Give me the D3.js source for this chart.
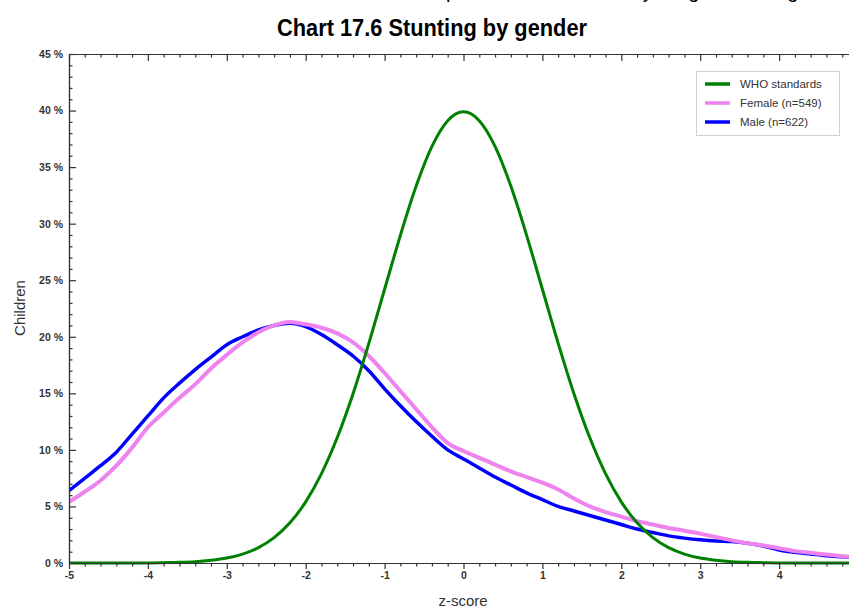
<!DOCTYPE html>
<html>
<head>
<meta charset="utf-8">
<script src="https://cdn.jsdelivr.net/npm/d3@7"></script>
<style>
  html, body { margin: 0; padding: 0; background: #fff; }
  svg { display: block; }
</style>
</head>
<body>
<svg id="chart" width="849" height="608"></svg>
<script>
// z-score grid shared by every series
const zScores = [-5.0, -4.8, -4.6, -4.4, -4.2, -4.0, -3.8, -3.6, -3.4, -3.2,
  -3.0, -2.8, -2.6, -2.4, -2.2, -2.0, -1.8, -1.6, -1.4, -1.2,
  -1.0, -0.8, -0.6, -0.4, -0.2, 0.0, 0.2, 0.4, 0.6, 0.8,
  1.0, 1.2, 1.4, 1.6, 1.8, 2.0, 2.2, 2.4, 2.6, 2.8,
  3.0, 3.2, 3.4, 3.6, 3.8, 4.0, 4.2, 4.4, 4.6, 4.8, 5.0];

// share of children (%) at each z-score
const whoStandards = [0, 0, 0, 0, 0.01, 0.01, 0.03, 0.06, 0.12, 0.24,
  0.44, 0.79, 1.36, 2.24, 3.55, 5.40, 7.90, 11.09, 14.97, 19.42,
  24.20, 28.97, 33.32, 36.83, 39.10, 39.89, 39.10, 36.83, 33.32, 28.97,
  24.20, 19.42, 14.97, 11.09, 7.90, 5.40, 3.55, 2.24, 1.36, 0.79,
  0.44, 0.24, 0.12, 0.06, 0.03, 0.01, 0.01, 0, 0, 0, 0];

const female = [5.4, 6.3, 7.3, 8.6, 10.2, 12.0, 13.3, 14.6, 15.8, 17.2,
  18.4, 19.5, 20.4, 21.0, 21.3, 21.1, 20.8, 20.3, 19.5, 18.3,
  16.8, 15.2, 13.6, 12.0, 10.6, 9.9, 9.3, 8.7, 8.1, 7.6,
  7.1, 6.5, 5.7, 5.0, 4.5, 4.1, 3.7, 3.4, 3.1, 2.85,
  2.6, 2.3, 2.0, 1.75, 1.55, 1.3, 1.05, 0.9, 0.75, 0.6, 0.5];

const male = [6.4, 7.5, 8.6, 9.8, 11.4, 13.0, 14.6, 15.9, 17.1, 18.2,
  19.3, 20.0, 20.6, 21.0, 21.2, 20.9, 20.2, 19.3, 18.3, 17.0,
  15.4, 13.9, 12.5, 11.2, 10.0, 9.2, 8.4, 7.6, 6.9, 6.2,
  5.6, 5.0, 4.6, 4.2, 3.8, 3.4, 3.0, 2.7, 2.4, 2.2,
  2.05, 1.95, 1.9, 1.75, 1.5, 1.15, 0.95, 0.8, 0.65, 0.55, 0.45];

const seriesNames = ["WHO standards", "Female (n=549)", "Male (n=622)"];
const seriesColors = ["#008000", "#ee82ee", "#0000ff"];

const xMajorTicks = [-5, -4, -3, -2, -1, 0, 1, 2, 3, 4, 5];
const xTickLabels = ["-5", "-4", "-3", "-2", "-1", "0", "1", "2", "3", "4", ""];
const yMajorTicks = [0, 5, 10, 15, 20, 25, 30, 35, 40, 45];

const svg = d3.select("#chart");

const plot = { left: 69, top: 54, right: 858, bottom: 563 };

const x = d3.scaleLinear().domain([-5, 5]).range([plot.left, plot.right]);
const y = d3.scaleLinear().domain([0, 45]).range([plot.bottom, plot.top]);

const labelFont = "'Liberation Sans', Arial, sans-serif";
const narrowFont = "'Liberation Sans Narrow', 'Arial Narrow', 'Liberation Sans', Arial, sans-serif";

// header lines (the first one runs off the top of the page)
svg.append("text")
  .attr("x", 815).attr("y", -2)
  .attr("text-anchor", "end")
  .style("font-family", narrowFont)
  .style("font-size", "20px")
  .attr("fill", "#000")
  .text("Chart 17.5 Z-score distribution of children compared with the WHO by weight and height");

svg.append("text")
  .attr("x", 432).attr("y", 36)
  .attr("text-anchor", "middle")
  .attr("textLength", 310)
  .attr("lengthAdjust", "spacingAndGlyphs")
  .style("font-family", narrowFont)
  .style("font-weight", "bold")
  .style("font-size", "23px")
  .attr("fill", "#000")
  .text("Chart 17.6 Stunting by gender");

// curves
const rows = zScores.map((z, i) => ({ z, v: [whoStandards[i], female[i], male[i]] }));

svg.append("clipPath").attr("id", "plotClip")
  .append("rect")
  .attr("x", plot.left).attr("y", plot.top - 3)
  .attr("width", plot.right - plot.left).attr("height", plot.bottom - plot.top + 6);

const curves = svg.append("g").attr("clip-path", "url(#plotClip)");
const widths = [3, 4, 3.5];
// drawn so that the reference curve sits on top
[2, 1, 0].forEach(k => {
  const line = d3.line()
    .x(d => x(d.z))
    .y(d => y(d.v[k]))
    .curve(d3.curveMonotoneX);
  curves.append("path")
    .datum(rows)
    .attr("fill", "none")
    .attr("stroke", seriesColors[k])
    .attr("stroke-width", widths[k])
    .attr("stroke-linejoin", "round")
    .attr("d", line);
});

// axes
const axisColor = "#333";
function styleAxis(g, showText) {
  g.selectAll("path.domain").attr("stroke", axisColor).attr("stroke-width", 1.2);
  g.selectAll(".tick line").attr("stroke", axisColor).attr("stroke-width", 1.2);
  g.selectAll(".tick text")
    .attr("fill", "#333")
    .style("font-family", labelFont)
    .style("font-size", "10.5px")
    .style("font-weight", "bold")
    .style("display", showText ? null : "none");
}

const yMinor = d3.range(0, 46, 1).filter(v => v % 5 !== 0);
const xMinor = d3.range(-50, 51, 2).map(v => v / 10).filter(v => Math.abs(v - Math.round(v)) > 1e-9);

// left axis: ticks point into the plot, labels on the left
svg.append("g").attr("transform", `translate(${plot.left},0)`)
  .call(d3.axisLeft(y).tickValues(yMinor).tickSize(-3.5).tickSizeOuter(0).tickFormat(""))
  .call(g => styleAxis(g, false));
svg.append("g").attr("transform", `translate(${plot.left},0)`)
  .call(d3.axisLeft(y).tickValues(yMajorTicks).tickSize(-7).tickSizeOuter(0).tickPadding(6)
    .tickFormat(d => d + " %"))
  .call(g => styleAxis(g, true));

// top frame: ticks point down into the plot
svg.append("g").attr("transform", `translate(0,${plot.top})`)
  .call(d3.axisTop(x).tickValues(xMinor).tickSize(-3.5).tickSizeOuter(0).tickFormat(""))
  .call(g => styleAxis(g, false));
svg.append("g").attr("transform", `translate(0,${plot.top})`)
  .call(d3.axisTop(x).tickValues(xMajorTicks).tickSize(-7).tickSizeOuter(0).tickFormat(""))
  .call(g => styleAxis(g, false));

// bottom axis: ticks point outward
svg.append("g").attr("transform", `translate(0,${plot.bottom})`)
  .call(d3.axisBottom(x).tickValues(xMinor).tickSize(3.5).tickSizeOuter(0).tickFormat(""))
  .call(g => styleAxis(g, false));
svg.append("g").attr("transform", `translate(0,${plot.bottom})`)
  .call(d3.axisBottom(x).tickValues(xMajorTicks).tickSize(6).tickSizeOuter(0).tickPadding(3)
    .tickFormat((d, i) => xTickLabels[i]))
  .call(g => styleAxis(g, true));

// axis titles
svg.append("text")
  .attr("x", 463).attr("y", 606)
  .attr("text-anchor", "middle")
  .style("font-family", labelFont)
  .style("font-size", "15px")
  .attr("fill", "#333")
  .text("z-score");

svg.append("text")
  .attr("transform", "translate(25,308) rotate(-90)")
  .attr("text-anchor", "middle")
  .style("font-family", labelFont)
  .style("font-size", "15px")
  .attr("fill", "#333")
  .text("Children");

// legend
const legend = svg.append("g");
legend.append("rect")
  .attr("x", 696.5).attr("y", 71.5)
  .attr("width", 143).attr("height", 64)
  .attr("fill", "#fff")
  .attr("stroke", "#d0d0d0");
const legendY = [84, 103, 122];
seriesNames.forEach((name, k) => {
  legend.append("line")
    .attr("x1", 705).attr("x2", 730)
    .attr("y1", legendY[k]).attr("y2", legendY[k])
    .attr("stroke", seriesColors[k])
    .attr("stroke-width", 3.5);
  legend.append("text")
    .attr("x", 740).attr("y", legendY[k] + 4)
    .style("font-family", labelFont)
    .style("font-size", "11.5px")
    .attr("fill", "#333")
    .text(name);
});
</script>
</body>
</html>
